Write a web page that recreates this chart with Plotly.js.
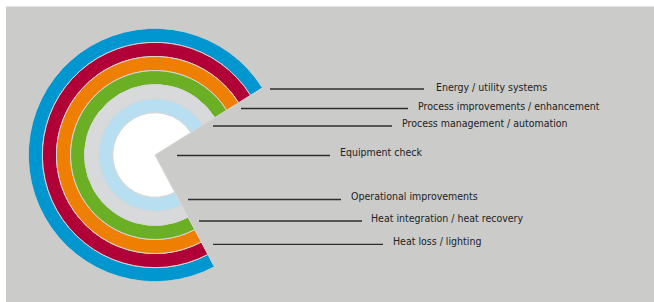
<!DOCTYPE html>
<html>
<head>
<meta charset="utf-8">
<script src="https://cdn.plot.ly/plotly-3.0.1.min.js"></script>
<style>
  html, body { margin: 0; padding: 0; background: #ffffff; }
  #chart { width: 654px; height: 302px; }
</style>
</head>
<body>
<div id="chart"></div>
<script>
// ---- Data ----
const categories = [
  "Energy / utility systems",
  "Process improvements / enhancement",
  "Process management / automation",
  "Equipment check",
  "Operational improvements",
  "Heat integration / heat recovery",
  "Heat loss / lighting"
];
// angular extent of each ring, in degrees (all rings share the same gap)
const spanDeg = [266, 266, 266, 266, 266, 266, 266];
// ring start angle (degrees, counter-clockwise from east)
const startDeg = [32, 32, 32, 32, 32, 32, 32];
// ring inner radius and thickness (radial units)
const ringBase = [8, 7, 6, 5, 4, 3, 0];
const ringThickness = [1, 1, 1, 1, 1, 1, 3];
const colors = ["#0096d0", "#b00037", "#ef7f00", "#6bb024", "#d8d9da", "#b8dff1", "#ffffff"];

// ---- Layout helpers (pixel -> paper) ----
const W = 654, H = 302;
const px = x => x / W;
const py = y => (H - y) / H;

const cx = 155, cy = 155, R = 126.7;

const traces = categories.map((c, i) => ({
  type: "barpolar",
  name: c,
  r: [ringThickness[i]],
  base: [ringBase[i]],
  theta: [startDeg[i] + spanDeg[i] / 2],
  width: [spanDeg[i]],
  marker: { color: colors[i], line: { color: "#d6d6d6", width: 1 } },
  hoverinfo: "name",
  showlegend: false
}));

// label guide lines and text positions (pixels)
const lineX0 = [270, 241, 213, 177, 188, 199, 213];
const lineX1 = [424, 408, 392, 330, 341, 362, 383];
const lineY  = [89, 108.5, 126, 155.5, 199.5, 221, 244.3];
const textX  = [434, 416, 400, 338, 349, 369, 391];
const textY  = [86.7, 105.7, 122.7, 152.3, 196, 217.7, 241];

const shapes = [{
  type: "rect", xref: "paper", yref: "paper", layer: "below",
  x0: px(6), x1: 1, y0: 0, y1: py(6.5),
  fillcolor: "#cbcbca", line: { width: 0 }
}];
categories.forEach((c, i) => {
  shapes.push({
    type: "line", xref: "paper", yref: "paper",
    x0: px(lineX0[i]), x1: px(lineX1[i]), y0: py(lineY[i]), y1: py(lineY[i]),
    line: { color: "#2e2e2e", width: 1.3 }
  });
});

const annotations = categories.map((c, i) => ({
  xref: "paper", yref: "paper",
  x: px(textX[i]), y: py(textY[i]),
  xanchor: "left", yanchor: "middle",
  text: c, showarrow: false,
  font: { family: "Liberation Sans Narrow, 'DejaVu Sans Condensed', 'Arial Narrow', sans-serif", size: 10.5, color: "#222222" }
}));

const layout = {
  width: W, height: H,
  margin: { l: 0, r: 0, t: 0, b: 0 },
  paper_bgcolor: "#ffffff",
  showlegend: false,
  polar: {
    domain: { x: [px(cx - R), px(cx + R)], y: [py(cy + R), py(cy - R)] },
    bgcolor: "rgba(0,0,0,0)",
    radialaxis: { range: [0, 9], visible: false, showgrid: false },
    angularaxis: { visible: false, showgrid: false, rotation: 0, direction: "counterclockwise" }
  },
  shapes: shapes,
  annotations: annotations
};

Plotly.newPlot("chart", traces, layout, { displayModeBar: false, staticPlot: true });
</script>
</body>
</html>
